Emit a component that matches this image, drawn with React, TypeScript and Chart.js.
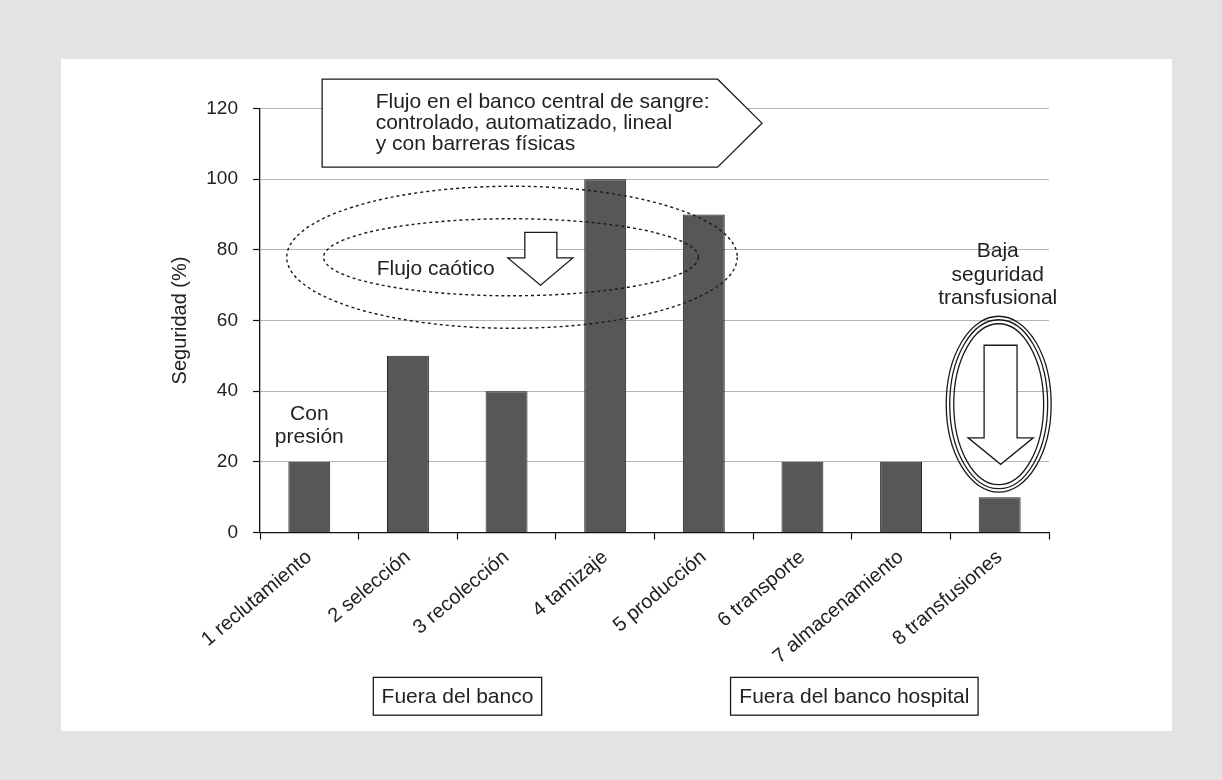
import React, { useEffect, useRef } from 'react';
import { Chart, registerables } from 'chart.js';

Chart.register(...registerables);

// ---- data ----
const categories = [
  '1 reclutamiento',
  '2 selección',
  '3 recolección',
  '4 tamizaje',
  '5 producción',
  '6 transporte',
  '7 almacenamiento',
  '8 transfusiones',
];
const seguridad = [20, 50, 40, 100, 90, 20, 20, 10];
const yMin = 0;
const yMax = 120;
const yStep = 20;
const yAxisTitle = 'Seguridad (%)';

// ---- annotation texts ----
const centralBankLines = [
  'Flujo en el banco central de sangre:',
  'controlado, automatizado, lineal',
  'y con barreras físicas',
];
const chaoticLabel = 'Flujo caótico';
const pressureLines = ['Con', 'presión'];
const lowSafetyLines = ['Baja', 'seguridad', 'transfusional'];
const groupLabels = ['Fuera del banco', 'Fuera del banco hospital'];

const FONT = '"Liberation Sans", Arial, Helvetica, sans-serif';
const INK = '#222222';

const annotationPlugin = {
  id: 'annotations',
  afterDraw(chart: any) {
    const { ctx } = chart;
    const xs = chart.scales.x;
    const ys = chart.scales.y;
    const X = (i: number) => xs.getPixelForValue(i);
    const Y = (v: number) => ys.getPixelForValue(v);
    const DX = (d: number) => X(d) - X(0);
    const DY = (d: number) => Y(0) - Y(d);

    ctx.save();
    ctx.lineJoin = 'miter';
    ctx.strokeStyle = '#1a1a1a';
    ctx.fillStyle = INK;

    // Pentagon arrow box
    ctx.beginPath();
    ctx.moveTo(X(0.13), Y(128.3));
    ctx.lineTo(X(4.14), Y(128.3));
    ctx.lineTo(X(4.59), Y(115.85));
    ctx.lineTo(X(4.14), Y(103.4));
    ctx.lineTo(X(0.13), Y(103.4));
    ctx.closePath();
    ctx.fillStyle = '#ffffff';
    ctx.fill();
    ctx.lineWidth = 1.3;
    ctx.stroke();

    ctx.font = `21px ${FONT}`;
    ctx.fillStyle = INK;
    ctx.textBaseline = 'middle';
    ctx.textAlign = 'left';
    const boxY = [121.8, 115.8, 109.9];
    centralBankLines.forEach((t, k) => ctx.fillText(t, X(0.673), Y(boxY[k])));

    // Dashed ellipses (chaotic flow)
    ctx.setLineDash([3, 3]);
    ctx.lineWidth = 1.4;
    ctx.beginPath();
    ctx.ellipse(X(2.055), Y(77.9), DX(2.284), DY(20.1), 0, 0, Math.PI * 2);
    ctx.stroke();
    ctx.beginPath();
    ctx.ellipse(X(2.045), Y(77.9), DX(1.9), DY(10.9), 0, 0, Math.PI * 2);
    ctx.stroke();
    ctx.setLineDash([]);

    // Hollow arrows
    const drawArrow = (sx0: number, sx1: number, top: number, hb: number, hx0: number, hx1: number, tx: number, ty: number) => {
      ctx.beginPath();
      ctx.moveTo(X(sx0), Y(top));
      ctx.lineTo(X(sx1), Y(top));
      ctx.lineTo(X(sx1), Y(hb));
      ctx.lineTo(X(hx1), Y(hb));
      ctx.lineTo(X(tx), Y(ty));
      ctx.lineTo(X(hx0), Y(hb));
      ctx.lineTo(X(sx0), Y(hb));
      ctx.closePath();
      ctx.fillStyle = '#ffffff';
      ctx.fill();
      ctx.lineWidth = 1.3;
      ctx.stroke();
    };
    drawArrow(2.185, 2.51, 84.95, 77.7, 2.013, 2.672, 2.344, 70.0);

    ctx.fillStyle = INK;
    ctx.textAlign = 'left';
    ctx.fillText(chaoticLabel, X(0.683), Y(74.6));

    // Triple ellipse around transfusions
    ctx.lineWidth = 1.3;
    [0, 3.5, 7.5].forEach((off) => {
      ctx.beginPath();
      ctx.ellipse(X(6.99), Y(36.3), DX(0.532) - off, DY(24.9) - off, 0, 0, Math.PI * 2);
      ctx.stroke();
    });
    drawArrow(6.842, 7.176, 53.0, 26.8, 6.68, 7.34, 7.01, 19.3);

    // Low safety label
    ctx.fillStyle = INK;
    ctx.textAlign = 'center';
    const lowY = [79.6, 72.9, 66.4];
    lowSafetyLines.forEach((t, k) => ctx.fillText(t, X(6.98), Y(lowY[k])));

    // Con presión
    const presY = [33.5, 27.0];
    pressureLines.forEach((t, k) => ctx.fillText(t, X(0.0), Y(presY[k])));

    // Bottom group boxes
    const groups = [
      { x0: 0.649, x1: 2.356, label: groupLabels[0] },
      { x0: 4.271, x1: 6.781, label: groupLabels[1] },
    ];
    groups.forEach((g) => {
      const x0 = X(g.x0), x1 = X(g.x1), y0 = Y(-41.0), y1 = Y(-51.7);
      ctx.fillStyle = '#ffffff';
      ctx.fillRect(x0, y0, x1 - x0, y1 - y0);
      ctx.lineWidth = 1.3;
      ctx.strokeRect(x0, y0, x1 - x0, y1 - y0);
      ctx.fillStyle = INK;
      ctx.textAlign = 'center';
      ctx.fillText(g.label, (x0 + x1) / 2, (y0 + y1) / 2 + 1);
    });

    ctx.restore();
  },
};

export default function App() {
  const ref = useRef<HTMLCanvasElement | null>(null);

  useEffect(() => {
    if (!ref.current) return;
    const chart = new Chart(ref.current, {
      type: 'bar',
      data: {
        labels: categories,
        datasets: [
          {
            data: seguridad,
            backgroundColor: '#57575a',
            borderColor: '#262626',
            borderWidth: 1,
            categoryPercentage: 1,
            barPercentage: 0.425,
          },
        ],
      },
      options: {
        animation: false,
        responsive: false,
        devicePixelRatio: 1,
        layout: { padding: { left: 168, top: 108.5, right: 173, bottom: 0 } },
        plugins: {
          legend: { display: false },
          tooltip: { enabled: false },
        },
        scales: {
          x: {
            offset: true,
            grid: {
              display: true,
              offset: true,
              drawOnChartArea: false,
              drawTicks: true,
              tickLength: 7,
              tickColor: '#111',
              tickWidth: 1.2,
            },
            border: { display: true, color: '#111', width: 1.3 },
            ticks: {
              autoSkip: false,
              minRotation: 40,
              maxRotation: 40,
              padding: 6,
              color: INK,
              font: { family: FONT, size: 20 },
            },
            afterFit: (scale: any) => {
              scale.height = 247.5;
            },
          },
          y: {
            min: yMin,
            max: yMax,
            ticks: {
              stepSize: yStep,
              padding: 15,
              color: INK,
              font: { family: FONT, size: 19 },
            },
            grid: {
              color: '#b4b4b4',
              lineWidth: 1,
              tickLength: 7,
              tickColor: '#111',
              tickWidth: 1.2,
            },
            border: { display: true, color: '#111', width: 1.3 },
            title: {
              display: true,
              text: yAxisTitle,
              color: INK,
              font: { family: FONT, size: 20 },
              padding: { top: 0, bottom: 0 },
            },
            afterFit: (scale: any) => {
              scale.width = 92;
            },
          },
        },
      },
      plugins: [annotationPlugin],
    });
    return () => chart.destroy();
  }, []);

  return (
    <div
      style={{
        position: 'fixed',
        left: 0,
        top: 0,
        width: 1222,
        height: 780,
        background: '#e2e3e5',
        overflow: 'hidden',
      }}
    >
      <div
        style={{
          position: 'absolute',
          left: 61,
          top: 59,
          width: 1111,
          height: 672,
          background: '#ffffff',
        }}
      />
      <canvas
        ref={ref}
        width={1222}
        height={780}
        style={{ position: 'absolute', left: 0, top: 0, width: 1222, height: 780 }}
      />
    </div>
  );
}
